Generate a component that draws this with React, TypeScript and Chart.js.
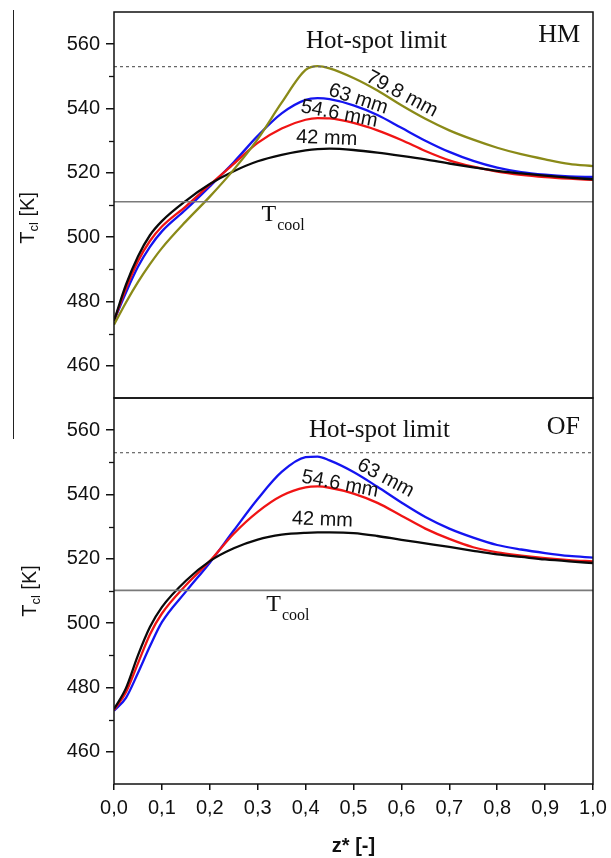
import React, { useEffect, useRef } from 'react';
import { Chart, registerables } from 'chart.js';

Chart.register(...registerables);

// Axial coordinate z* (shared by every series)
const zGrid = [0, 0.025, 0.05, 0.075, 0.1, 0.15, 0.2, 0.25, 0.3, 0.35, 0.4, 0.425, 0.45, 0.5, 0.55, 0.6, 0.65, 0.7, 0.75, 0.8, 0.85, 0.9, 0.95, 1.0];

// HM panel – centreline temperature T_cl [K]
const hm42 = [474, 485.2, 494, 500.6, 505, 511.3, 516.5, 520.5, 523.6, 525.6, 527, 527.4, 527.5, 527.1, 526.3, 525.3, 524.2, 522.9, 521.7, 520.6, 519.8, 519.1, 518.5, 518.0];
const hm546 = [474, 484, 492.5, 498.8, 503.3, 509.6, 516.3, 522.8, 529.3, 533.8, 536.5, 537, 536.9, 535.5, 533.2, 530.2, 526.8, 523.9, 521.9, 520.4, 519.4, 518.7, 518.2, 517.8];
const hm63 = [474, 482.8, 490.8, 497, 501.8, 508.6, 515.8, 523.3, 531.5, 538.5, 542.7, 543.2, 542.9, 541, 538, 534, 530, 526.5, 523.7, 521.6, 520.2, 519.4, 518.9, 518.7];
const hm798 = [472.8, 479.7, 486, 491.6, 496.6, 504.9, 512.6, 521, 530.5, 541.8, 552, 553.2, 552.5, 549.5, 545.6, 541, 536.8, 533.2, 530.3, 527.8, 525.8, 524.2, 522.8, 522.1];

// OF panel – centreline temperature T_cl [K]
const of42 = [473.3, 479.8, 490, 498.8, 505, 513.2, 519.3, 523.3, 526, 527.5, 528.1, 528.2, 528.2, 528, 527.1, 525.9, 524.8, 523.7, 522.5, 521.4, 520.6, 519.8, 519.2, 518.7];
const of546 = [473, 478.5, 487.5, 496.5, 503, 511.8, 519.3, 527.8, 534.6, 539.6, 542.2, 542.5, 542.1, 540.3, 537.4, 533.4, 529.4, 526.2, 523.6, 522, 521, 520.2, 519.6, 519.2];
const of63 = [472.8, 476.8, 484.5, 492.8, 500.3, 509.8, 518.8, 528.8, 538.6, 547, 551.6, 551.8, 550.6, 547, 542.4, 537.5, 533, 529.4, 526.6, 524.3, 522.9, 521.8, 520.9, 520.4];

// Reference levels
const hotSpotLimit = 553;
const tCoolHM = 511;
const tCoolOF = 510.2;

// Axes
const zMin = 0;
const zMax = 1;
const tMin = 450;
const tMax = 570;
const yMajorTicks = [460, 480, 500, 520, 540, 560];
const yMinorTicks = [470, 490, 510, 530, 550];
const xTicks = [0, 0.1, 0.2, 0.3, 0.4, 0.5, 0.6, 0.7, 0.8, 0.9, 1.0];

const SANS = '"Liberation Sans", Arial, sans-serif';
const SERIF = '"Liberation Serif", "Times New Roman", serif';
const INK = '#111';

type CurveLabel = { text: string; z: number; t: number; angle: number };
type Series = { values: number[]; color: string };

type PanelSpec = {
  name: string;
  nameZ: number;
  nameT: number;
  series: Series[];
  tCool: number;
  tCoolLabelZ: number;
  tCoolLabelT: number;
  hotLabelZ: number;
  hotLabelT: number;
  curveLabels: CurveLabel[];
  titleT: number;
  titleX: number;
  padTop: number;
  padBottom: number;
  bottomAxis: boolean;
};

const BLACK = '#0a0a0a';
const RED = '#f01414';
const BLUE = '#1414f0';
const OLIVE = '#8a8a18';

const panels: PanelSpec[] = [
  {
    name: 'HM',
    nameZ: 0.973,
    nameT: 560.8,
    series: [
      { values: hm798, color: OLIVE },
      { values: hm42, color: BLACK },
      { values: hm546, color: RED },
      { values: hm63, color: BLUE },
    ],
    tCool: tCoolHM,
    tCoolLabelZ: 0.308,
    tCoolLabelT: 505,
    hotLabelZ: 0.548,
    hotLabelT: 558.7,
    curveLabels: [
      { text: '79.8 mm', z: 0.601, t: 544.5, angle: 28 },
      { text: '63 mm', z: 0.51, t: 542.9, angle: 18 },
      { text: '54.6 mm', z: 0.47, t: 538.3, angle: 11 },
      { text: '42 mm', z: 0.444, t: 530.7, angle: 2 },
    ],
    titleT: 506,
    titleX: 34,
    padTop: 12,
    padBottom: 460,
    bottomAxis: false,
  },
  {
    name: 'OF',
    nameZ: 0.973,
    nameT: 558.8,
    series: [
      { values: of42, color: BLACK },
      { values: of546, color: RED },
      { values: of63, color: BLUE },
    ],
    tCool: tCoolOF,
    tCoolLabelZ: 0.318,
    tCoolLabelT: 503.8,
    hotLabelZ: 0.554,
    hotLabelT: 558,
    curveLabels: [
      { text: '63 mm', z: 0.567, t: 545.1, angle: 28 },
      { text: '54.6 mm', z: 0.472, t: 543.2, angle: 11 },
      { text: '42 mm', z: 0.435, t: 532.1, angle: 2 },
    ],
    titleT: 510,
    titleX: 36,
    padTop: 398,
    padBottom: 0,
    bottomAxis: true,
  },
];

function toPoints(values: number[]) {
  return values.map((v, i) => ({ x: zGrid[i], y: v }));
}

function makeDecor(spec: PanelSpec) {
  return {
    id: 'panelDecor' + spec.name,
    afterDraw(chart: any) {
      const { ctx, chartArea: a, scales } = chart;
      const xs = scales.x;
      const ys = scales.y;
      ctx.save();

      // frame
      ctx.strokeStyle = INK;
      ctx.lineWidth = 1.5;
      ctx.strokeRect(a.left, a.top, a.right - a.left, a.bottom - a.top);

      // minor y ticks
      ctx.lineWidth = 1.3;
      for (const v of yMinorTicks) {
        const py = Math.round(ys.getPixelForValue(v)) + 0.5;
        ctx.beginPath();
        ctx.moveTo(a.left - 5, py);
        ctx.lineTo(a.left, py);
        ctx.stroke();
      }

      ctx.fillStyle = INK;

      // panel name
      ctx.font = `26px ${SERIF}`;
      ctx.textAlign = 'right';
      ctx.textBaseline = 'alphabetic';
      ctx.fillText(spec.name, xs.getPixelForValue(spec.nameZ), ys.getPixelForValue(spec.nameT));

      // hot-spot label
      ctx.font = `25px ${SERIF}`;
      ctx.textAlign = 'center';
      ctx.fillText('Hot-spot limit', xs.getPixelForValue(spec.hotLabelZ), ys.getPixelForValue(spec.hotLabelT));

      // T_cool label
      {
        const px = xs.getPixelForValue(spec.tCoolLabelZ);
        const py = ys.getPixelForValue(spec.tCoolLabelT);
        ctx.textAlign = 'left';
        ctx.font = `24px ${SERIF}`;
        ctx.fillText('T', px, py);
        const w = ctx.measureText('T').width;
        ctx.font = `16px ${SERIF}`;
        ctx.fillText('cool', px + w + 1, py + 9);
      }

      // curve labels
      ctx.font = `20px ${SANS}`;
      ctx.textAlign = 'center';
      ctx.textBaseline = 'middle';
      for (const l of spec.curveLabels) {
        ctx.save();
        ctx.translate(xs.getPixelForValue(l.z), ys.getPixelForValue(l.t));
        ctx.rotate((l.angle * Math.PI) / 180);
        ctx.fillText(l.text, 0, 0);
        ctx.restore();
      }

      // y-axis title: T_cl [K]
      {
        const cy = ys.getPixelForValue(spec.titleT);
        ctx.save();
        ctx.translate(spec.titleX, cy);
        ctx.rotate(-Math.PI / 2);
        ctx.textBaseline = 'alphabetic';
        ctx.textAlign = 'left';
        const big = `20px ${SANS}`;
        const small = `13px ${SANS}`;
        ctx.font = big;
        const wT = ctx.measureText('T').width;
        const wK = ctx.measureText(' [K]').width;
        ctx.font = small;
        const wS = ctx.measureText('cl').width;
        const total = wT + wS + wK;
        let u = -total / 2;
        ctx.font = big;
        ctx.fillText('T', u, 0);
        u += wT;
        ctx.font = small;
        ctx.fillText('cl', u, 4);
        u += wS;
        ctx.font = big;
        ctx.fillText(' [K]', u, 0);
        ctx.restore();
      }

      // x-axis title
      if (spec.bottomAxis) {
        ctx.font = `bold 20px ${SANS}`;
        ctx.textAlign = 'center';
        ctx.textBaseline = 'middle';
        ctx.fillText('z* [-]', (a.left + a.right) / 2, 846);
      }

      ctx.restore();
    },
  };
}

function buildChart(canvas: HTMLCanvasElement, spec: PanelSpec) {
  const refLines = [
    {
      data: [{ x: zMin, y: hotSpotLimit }, { x: zMax, y: hotSpotLimit }],
      borderColor: '#666',
      borderWidth: 1.2,
      borderDash: [3, 3],
      pointRadius: 0,
      fill: false,
    },
    {
      data: [{ x: zMin, y: spec.tCool }, { x: zMax, y: spec.tCool }],
      borderColor: '#7a7a7a',
      borderWidth: 1.6,
      pointRadius: 0,
      fill: false,
    },
  ];
  const curves = spec.series.map((s) => ({
    data: toPoints(s.values),
    borderColor: s.color,
    borderWidth: 2.3,
    pointRadius: 0,
    fill: false,
    cubicInterpolationMode: 'monotone' as const,
  }));

  return new Chart(canvas, {
    type: 'line',
    data: { datasets: [...refLines, ...curves] as any },
    options: {
      animation: false,
      responsive: false,
      devicePixelRatio: 1,
      layout: { padding: { top: spec.padTop, bottom: spec.padBottom, left: 0, right: 18 } },
      plugins: { legend: { display: false }, tooltip: { enabled: false } },
      events: [],
      scales: {
        x: {
          type: 'linear',
          min: zMin,
          max: zMax,
          display: spec.bottomAxis,
          afterBuildTicks: (s: any) => {
            s.ticks = xTicks.map((v) => ({ value: v }));
          },
          afterFit: (s: any) => {
            s.height = spec.bottomAxis ? 74 : 0;
            s.paddingLeft = 0;
            s.paddingRight = 0;
          },
          ticks: {
            color: INK,
            padding: 6,
            maxRotation: 0,
            autoSkip: false,
            font: { family: SANS, size: 20 },
            callback: (v: any) => Number(v).toFixed(1).replace('.', ','),
          },
          grid: { drawOnChartArea: false, drawTicks: true, tickLength: 6, color: INK, lineWidth: 1.5 },
          border: { display: false },
        },
        y: {
          type: 'linear',
          min: tMin,
          max: tMax,
          afterBuildTicks: (s: any) => {
            s.ticks = yMajorTicks.map((v) => ({ value: v }));
          },
          afterFit: (s: any) => {
            s.width = 114;
            s.paddingTop = 0;
            s.paddingBottom = 0;
          },
          ticks: {
            color: INK,
            padding: 6,
            autoSkip: false,
            font: { family: SANS, size: 20 },
          },
          grid: { drawOnChartArea: false, drawTicks: true, tickLength: 8, color: INK, lineWidth: 1.5 },
          border: { display: false },
        },
      },
    },
    plugins: [makeDecor(spec)],
  });
}

export default function App() {
  const topRef = useRef<HTMLCanvasElement>(null);
  const botRef = useRef<HTMLCanvasElement>(null);

  useEffect(() => {
    const charts: Chart[] = [];
    if (topRef.current) charts.push(buildChart(topRef.current, panels[0]));
    if (botRef.current) charts.push(buildChart(botRef.current, panels[1]));
    return () => charts.forEach((c) => c.destroy());
  }, []);

  const canvasStyle: React.CSSProperties = { position: 'absolute', left: 0, top: 0, width: 611, height: 858 };

  return (
    <div style={{ position: 'fixed', left: 0, top: 0, width: 611, height: 858, background: '#fff' }}>
      <div style={{ position: 'absolute', left: 13, top: 10, width: 1, height: 429, background: '#222' }} />
      <canvas ref={topRef} width={611} height={858} style={canvasStyle} />
      <canvas ref={botRef} width={611} height={858} style={canvasStyle} />
    </div>
  );
}
